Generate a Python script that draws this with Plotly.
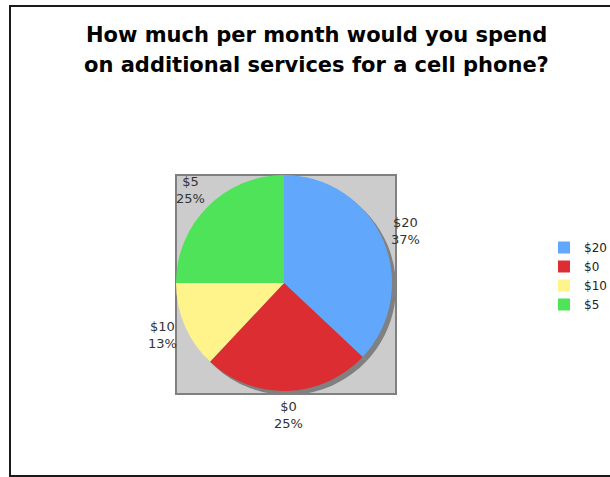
import math
import plotly.graph_objects as go

# Survey answers: monthly spend on extra cell phone services
labels = ["$20", "$0", "$10", "$5"]
shares = [37, 25, 13, 25]
colors = ["#61a8fd", "#dc2d33", "#fff38c", "#4fe35a"]

title_lines = ["How much per month would you spend",
               "on additional services for a cell phone?"]

W, H = 610, 477


def px_x(x):
    return x / W


def px_y(y):
    return 1 - y / H


cx, cy, r = 284, 283, 108
shadow = 4
label_r = 132

fig = go.Figure()

# drop shadow: same pie, all grey, shifted down-right
fig.add_trace(go.Pie(
    labels=labels, values=shares, sort=False, direction="clockwise", rotation=0,
    marker=dict(colors=["#808080"] * len(labels), line=dict(width=0)),
    textinfo="none", hoverinfo="skip", showlegend=False,
    domain=dict(x=[px_x(cx - r + shadow), px_x(cx + r + shadow)],
                y=[px_y(cy + r + shadow), px_y(cy - r + shadow)]),
))

fig.add_trace(go.Pie(
    labels=labels, values=shares, sort=False, direction="clockwise", rotation=0,
    marker=dict(colors=colors, line=dict(width=0)),
    textinfo="none",
    domain=dict(x=[px_x(cx - r), px_x(cx + r)],
                y=[px_y(cy + r), px_y(cy - r)]),
))

shapes = [
    # outer frame
    dict(type="rect", xref="paper", yref="paper",
         x0=px_x(10), x1=px_x(640), y0=px_y(476), y1=px_y(6),
         line=dict(color="#1a1a1a", width=2), fillcolor="rgba(0,0,0,0)"),
    # plot area behind the pie
    dict(type="rect", xref="paper", yref="paper", layer="below",
         x0=px_x(176), x1=px_x(396), y0=px_y(394), y1=px_y(175),
         line=dict(color="#808080", width=2), fillcolor="#cccccc"),
]

annotations = [
    dict(text="<b>%s</b>" % line, xref="paper", yref="paper",
         x=px_x(316), y=px_y(y), xanchor="center", yanchor="middle",
         showarrow=False, font=dict(family="DejaVu Sans", size=21, color="#000000"))
    for line, y in zip(title_lines, [35, 65])
]

# slice labels: name and share, placed outside each slice at its mid angle
total = sum(shares)
start = 0.0
for lab, val in zip(labels, shares):
    mid = (start + val / 2) / total * 2 * math.pi
    start += val
    lx = cx + label_r * math.sin(mid)
    ly = cy - label_r * math.cos(mid)
    annotations.append(dict(
        text="%s<br>%d%%" % (lab, round(val / total * 100)),
        xref="paper", yref="paper", x=px_x(lx), y=px_y(ly),
        xanchor="center", yanchor="middle", align="center", showarrow=False,
        font=dict(family="DejaVu Sans", size=13, color="#333333"),
    ))

fig.update_layout(
    width=W, height=H,
    margin=dict(l=0, r=0, t=0, b=0, autoexpand=False),
    paper_bgcolor="#ffffff",
    shapes=shapes,
    annotations=annotations,
    legend=dict(x=px_x(544), y=px_y(233), xanchor="left", yanchor="top",
                font=dict(family="DejaVu Sans", size=12, color="#222222"),
                tracegroupgap=0, itemclick=False),
)

fig.write_html("out.html")
